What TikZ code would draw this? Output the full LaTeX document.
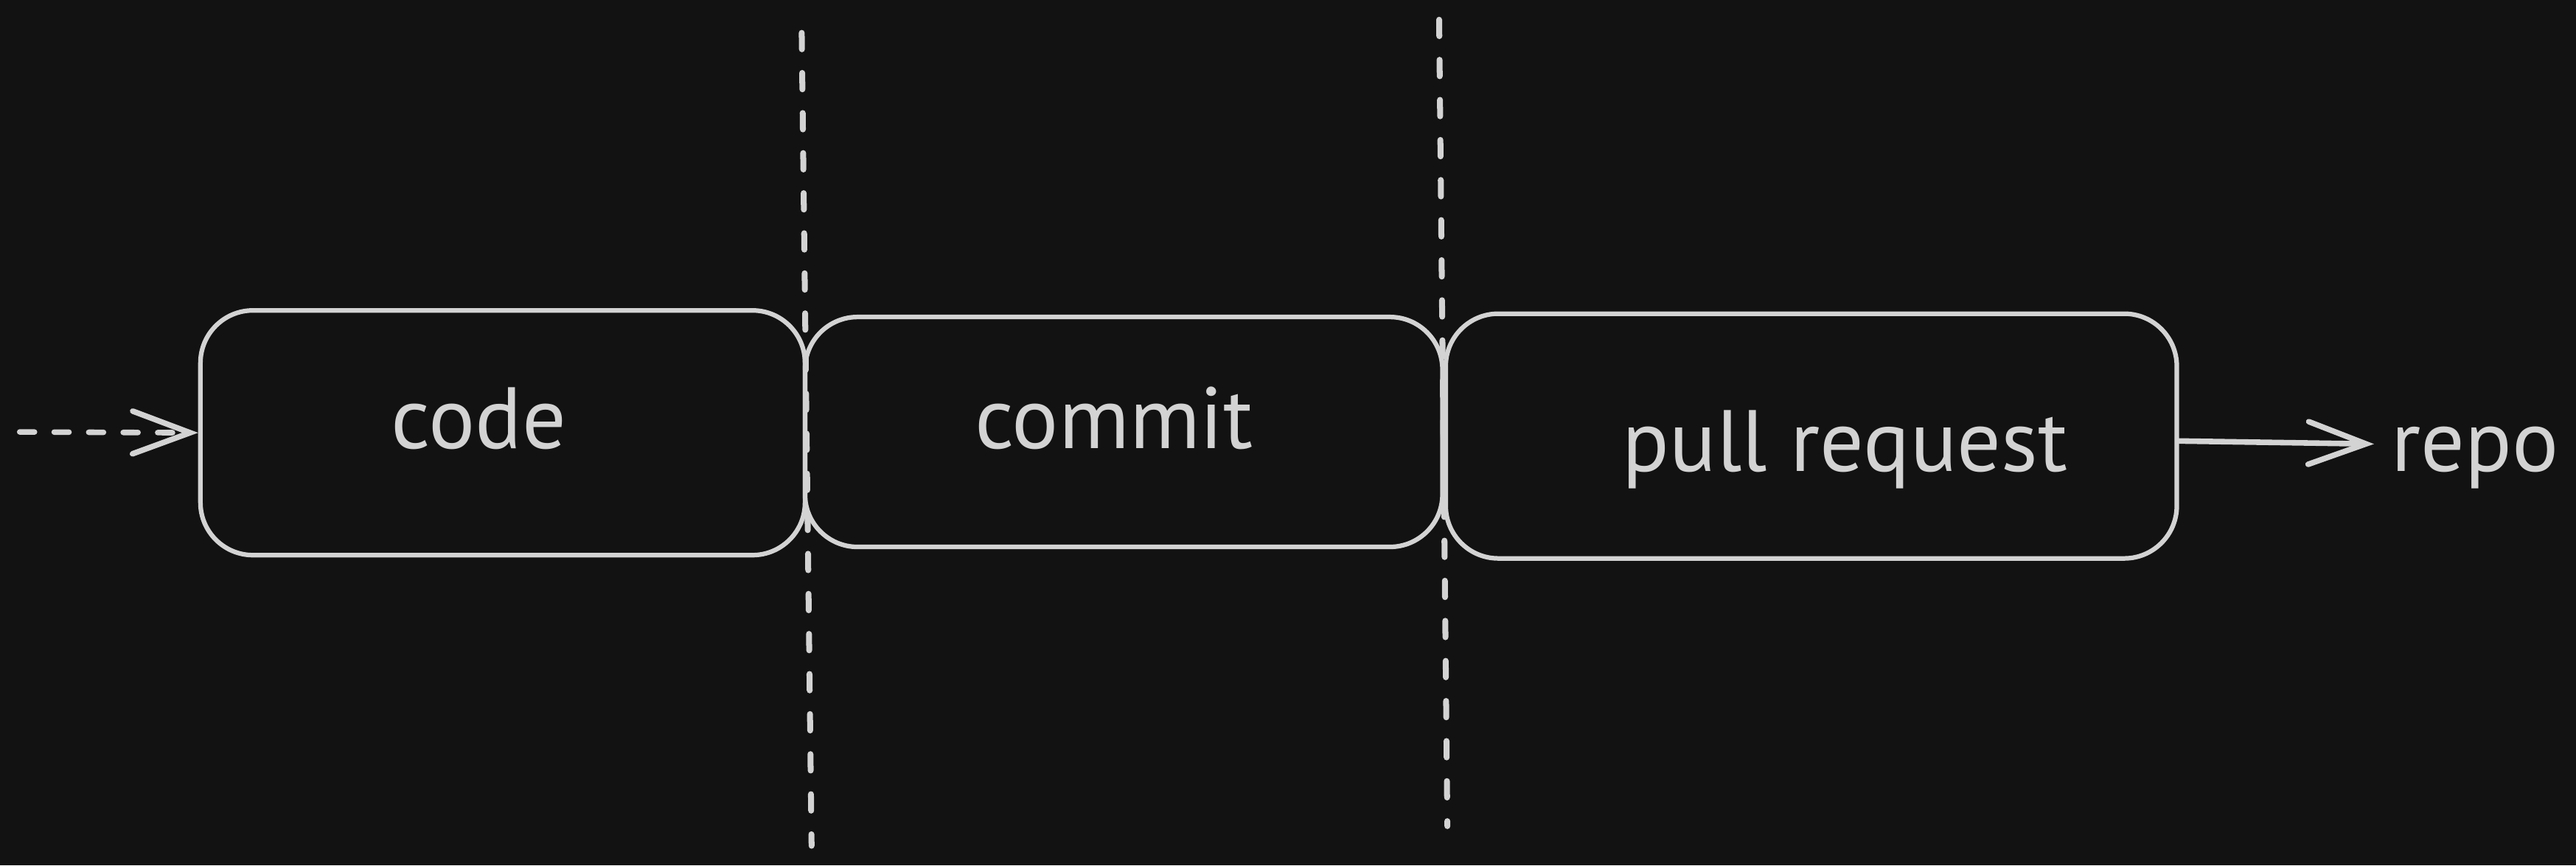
\documentclass[tikz,border=0pt]{standalone}
\usepackage{fontspec}
\setmainfont{PT Sans}
\usetikzlibrary{arrows.meta}
\definecolor{bg}{HTML}{121212}
\definecolor{ink}{HTML}{D3D3D3}
\begin{document}
\begin{tikzpicture}[x=0.5pt,y=-0.5pt,
  stage/.style={draw=ink, line width=1.4pt, rounded corners=16pt, inner sep=0pt},
  lbl/.style={text=ink, font=\fontsize{26.5}{31}\selectfont, inner sep=0pt},
  divider/.style={draw=ink, line width=1.8pt, line cap=round, dash pattern=on 5pt off 7.2pt},
  flowline/.style={draw=ink, line width=1.7pt, line cap=round},
  tip/.style={-{Straight Barb[length=17.5pt,width=13pt,line width=1.7pt,line cap=round]}}]
\fill[bg] (0,0) rectangle (1568,527);
\useasboundingbox (0,0) rectangle (1568,527);
% dividers
\coordinate (d1top) at (488,20);
\coordinate (d1bot) at (494,515);
\coordinate (d2top) at (876,12);
\coordinate (d2bot) at (881,503);
\draw[divider] (d1top) -- (d1bot);
\draw[divider] (d2top) -- (d2bot);
% boxes
\node[stage, minimum width=184pt, minimum height=74.5pt] (codebox) at (306,263.5) {};
\node[stage, minimum width=194pt, minimum height=70pt] (commitbox) at (684,263) {};
\node[stage, minimum width=222.5pt, minimum height=74.5pt] (prbox) at (1102.5,265.5) {};
% labels
\node[lbl, anchor=base] (codetxt) at (291.5,273) {code};
\node[lbl, anchor=base] (committxt) at (678,273) {commit};
\node[lbl, anchor=base] (prtxt) at (1123,287) {pull request};
\node[lbl, anchor=base west] (repo) at (1455,287) {repo};
% connectors
\coordinate (start) at (12,263);
\draw[flowline, tip, dash pattern=on 4.5pt off 6pt] (start) -- (codebox.west);
\draw[flowline, tip, shorten >=5pt] ([yshift=-1.5pt]prbox.east) -- ([yshift=-2.5pt]prbox.east -| repo.west);
\end{tikzpicture}
\end{document}
